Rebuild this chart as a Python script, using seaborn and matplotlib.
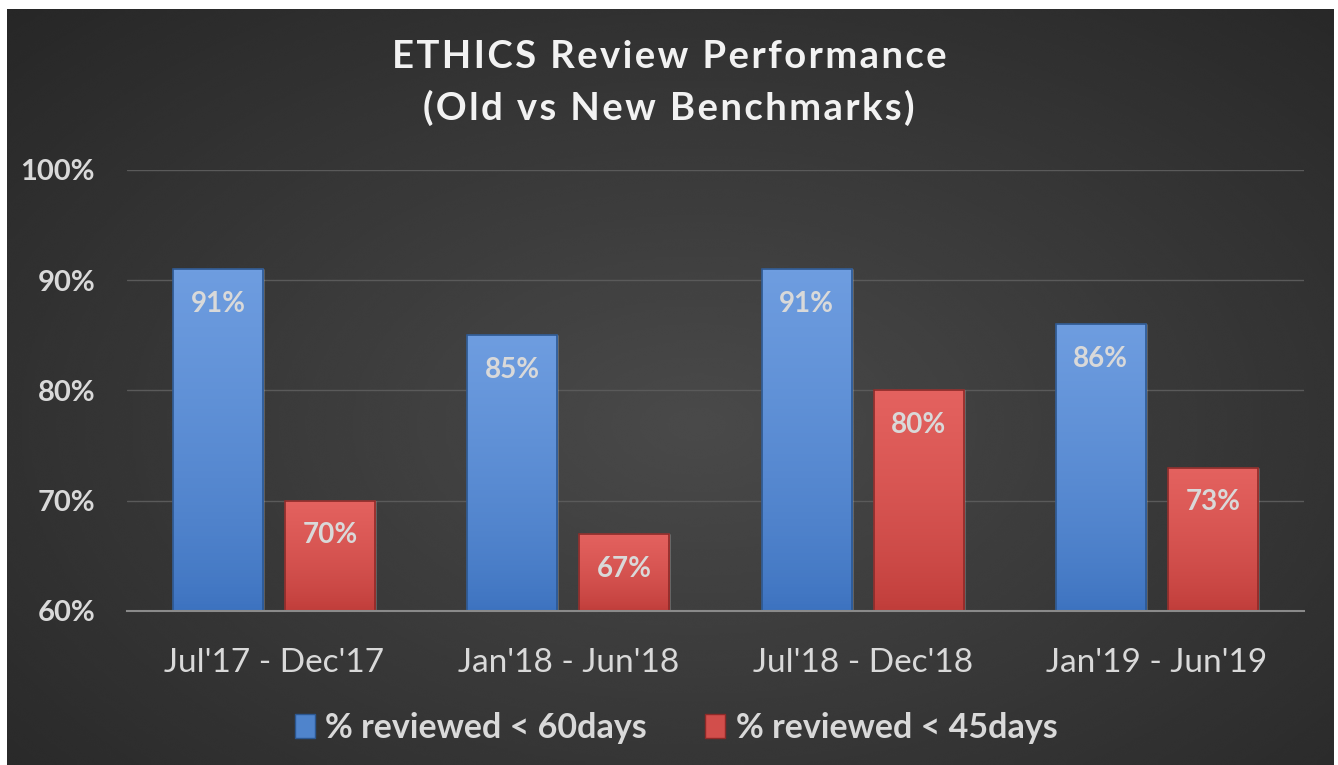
import numpy as np
import pandas as pd
import seaborn as sns
import matplotlib.pyplot as plt
from matplotlib.patches import Patch

# chart data
periods = ["Jul'17 - Dec'17", "Jan'18 - Jun'18", "Jul'18 - Dec'18", "Jan'19 - Jun'19"]
within_60 = [91, 85, 91, 86]
within_45 = [70, 67, 80, 73]
series = ["% reviewed < 60days", "% reviewed < 45days"]
y_ticks = [60, 70, 80, 90, 100]
title_lines = ["ETHICS Review Performance", "(Old vs New Benchmarks)"]

df = pd.DataFrame({
    "period": periods * 2,
    "pct": within_60 + within_45,
    "series": [series[0]] * len(periods) + [series[1]] * len(periods),
})

blue = "#4f84cc"
red = "#d24e4b"
shades = {
    blue: ("#6e9de0", "#3c72bf", "#2c5790"),
    red: ("#e4625f", "#bf3c39", "#8c2a28"),
}

sns.set_style("dark")
plt.rcParams["font.family"] = ["Lato", "DejaVu Sans"]

fig = plt.figure(figsize=(13.38, 7.65), dpi=100, facecolor="white")

# dark radial background
bg = fig.add_axes([7 / 1338, 0, 1327 / 1338, 756 / 765])
yy, xx = np.mgrid[0:1:300j, 0:1:500j]
dist = np.sqrt(((xx - 0.52) / 0.75) ** 2 + ((yy - 0.55) / 0.8) ** 2)
dist = np.clip(dist, 0, 1)
bg.imshow(0.29 - 0.14 * dist, cmap="gray", vmin=0, vmax=1, aspect="auto",
          extent=(0, 1, 0, 1), interpolation="bicubic")
bg.set_axis_off()

ax = fig.add_axes([127 / 1338, 1 - 611 / 765, (1304 - 127) / 1338, (611 - 170) / 765])
ax.set_facecolor("none")

sns.barplot(data=df, x="period", y="pct", hue="series", palette=[blue, red],
            width=0.762, gap=0.196, saturation=1, legend=False, ax=ax, zorder=3)

ax.set_ylim(60, 100)
ax.set_xlim(-0.5, len(periods) - 0.5)

# vertical gradient on each bar
grad = np.linspace(0, 1, 100).reshape(-1, 1)
for i, container in enumerate(ax.containers):
    top, bottom, edge = shades[[blue, red][i]]
    cmap = sns.blend_palette([bottom, top], as_cmap=True)
    for bar in container:
        x0 = bar.get_x()
        w = bar.get_width()
        h = bar.get_height()
        im = ax.imshow(grad ** 0.7, cmap=cmap, aspect="auto", origin="lower",
                       extent=(x0, x0 + w, 60, h), zorder=4)
        im.set_clip_path(bar)
        ax.add_patch(plt.Rectangle((x0, 60), w, h - 60, fill=False,
                                   edgecolor=edge, linewidth=1.2, zorder=5))
    labels = ax.bar_label(container, fmt="%d%%", padding=-25, color="#d9d9d9",
                          fontsize=20, fontweight="bold", zorder=6)
    for t in labels:
        t.set_va("center")

ax.set_xlim(-0.5, len(periods) - 0.5)
ax.set_ylim(60, 100)

ax.set_yticks(y_ticks)
ax.set_yticklabels([f"{v}%" for v in y_ticks], color="#d9d9d9", fontsize=21, fontweight="bold")
ax.tick_params(axis="y", length=0, pad=23)
ax.tick_params(axis="x", length=0, pad=27, labelsize=24, labelcolor="#d9d9d9")
ax.set_xlabel("")
ax.set_ylabel("")

ax.yaxis.grid(True, color="#5a5a5a", linewidth=1)
ax.xaxis.grid(False)
ax.set_axisbelow(True)
for side in ["left", "right", "top"]:
    ax.spines[side].set_visible(False)
ax.spines["bottom"].set_color("#8a8a8a")
ax.spines["bottom"].set_linewidth(1.5)
ax.spines["bottom"].set_zorder(7)

# spaced-out title, like the original
for line, ypix in zip(title_lines, [57, 108]):
    fig.text(669 / 1338, 1 - ypix / 765, "\u200a".join(line), ha="center", va="center",
             fontsize=27.5, fontweight="bold", color="#f2f2f2")

handles = [Patch(facecolor=blue, edgecolor=shades[blue][2], label=series[0]),
           Patch(facecolor=red, edgecolor=shades[red][2], label=series[1])]
leg = fig.legend(handles=handles, loc="center", bbox_to_anchor=(676 / 1338, 1 - 728 / 765),
                 ncol=2, frameon=False, handlelength=0.6, handleheight=0.7,
                 handletextpad=0.3, columnspacing=1.7,
                 prop={"size": 24.5, "weight": "bold"})
for t in leg.get_texts():
    t.set_color("#d9d9d9")

fig.savefig("out.png", dpi=100, facecolor="white")
